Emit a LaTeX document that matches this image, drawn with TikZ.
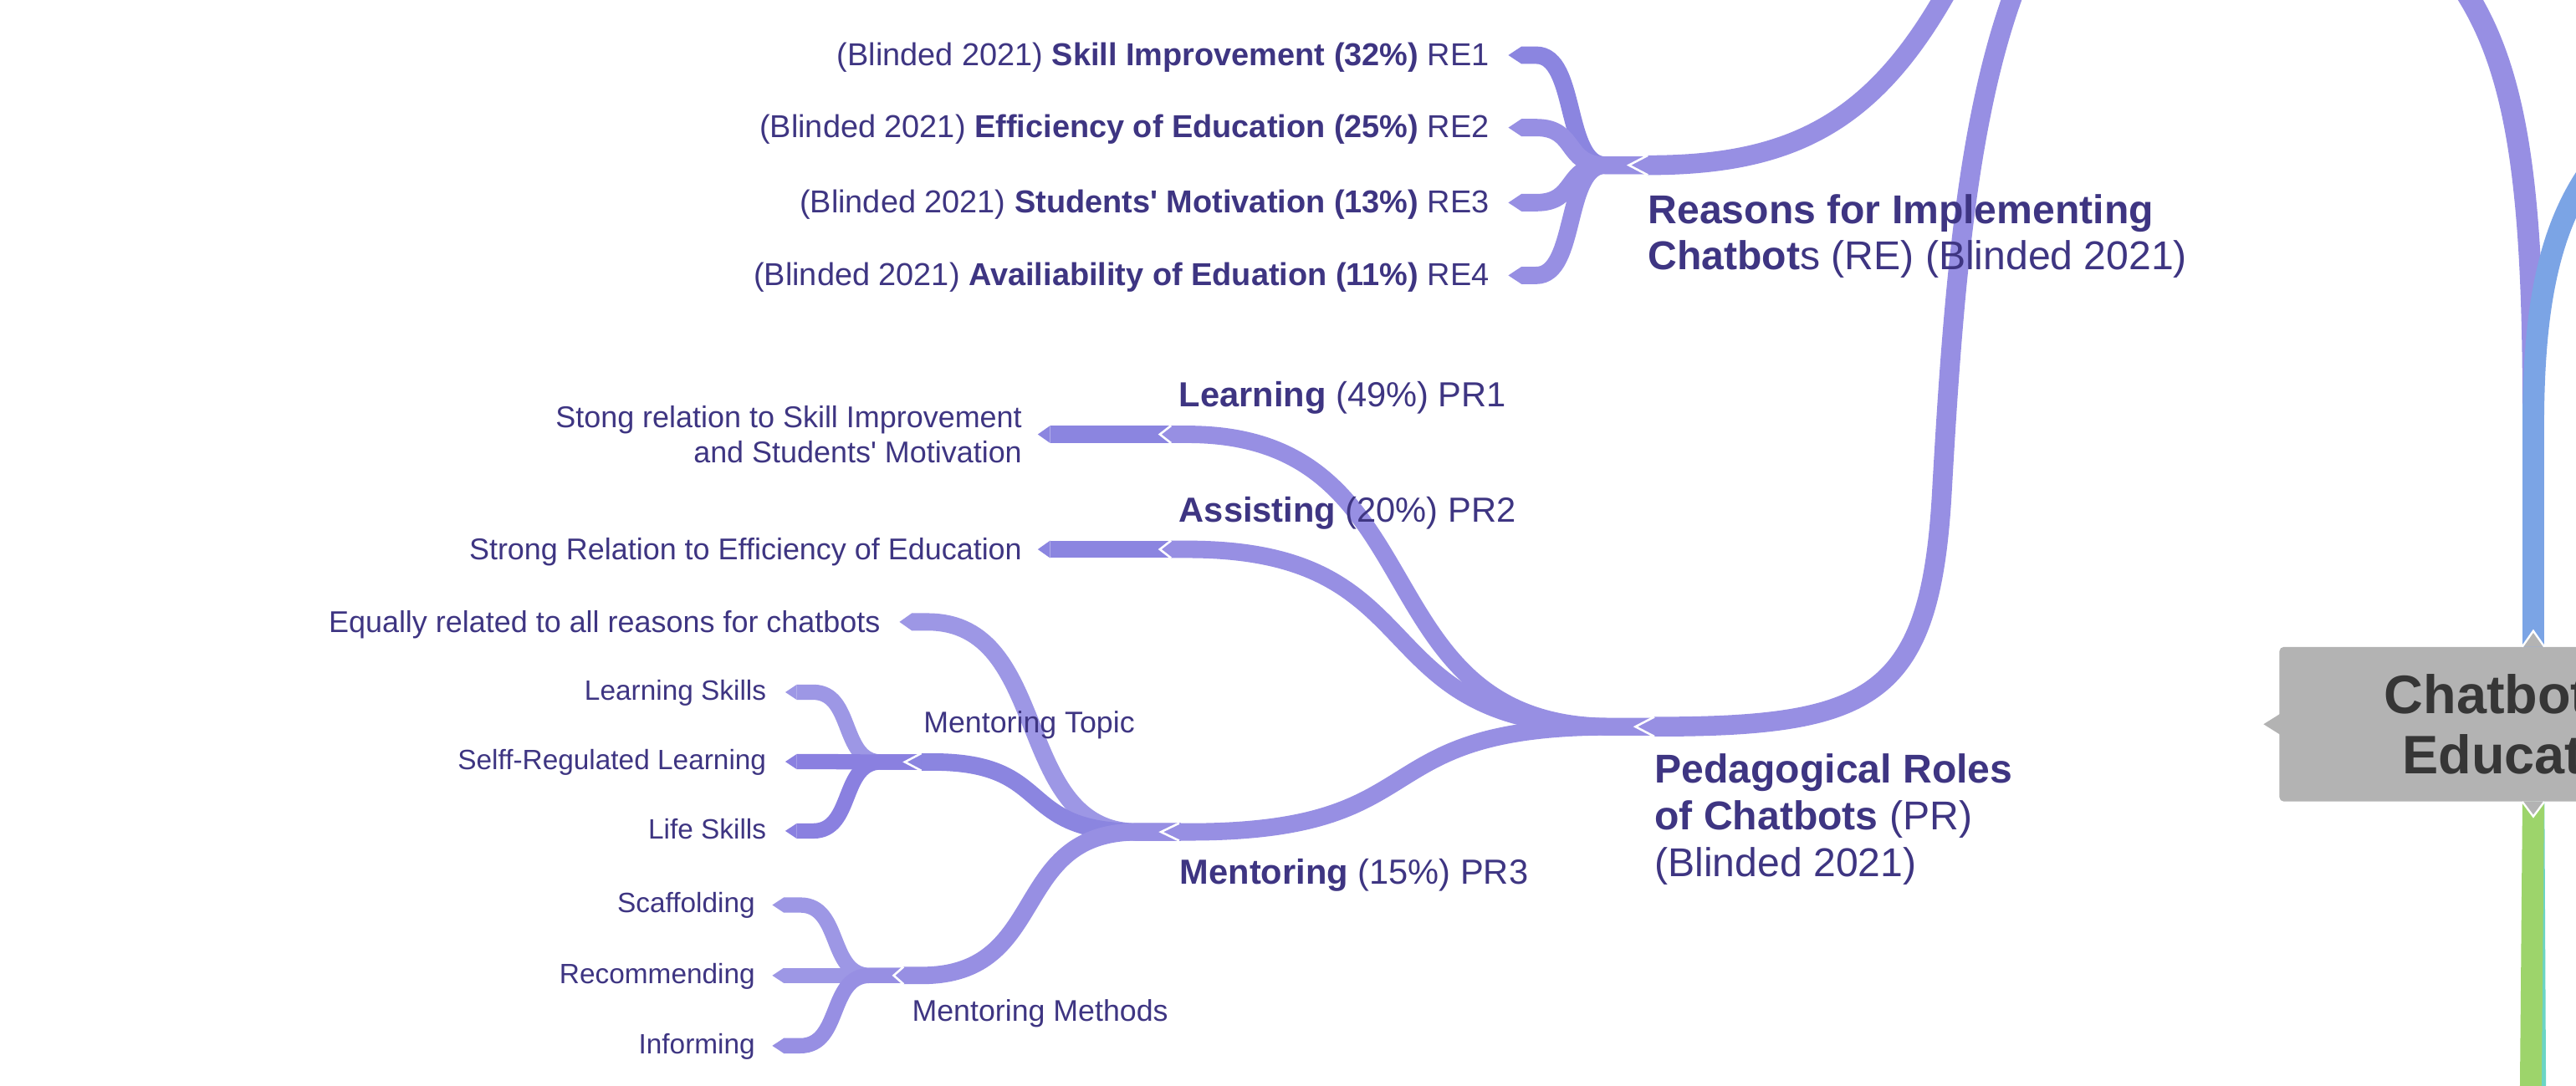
\documentclass[tikz,border=0pt]{standalone}
\usepackage{fontspec}
\setmainfont{Liberation Sans}
\usetikzlibrary{arrows.meta,backgrounds,calc}

\definecolor{ink}{HTML}{3E3582}
\definecolor{pA}{HTML}{978FE3}
\definecolor{pD}{HTML}{8B85E0}
\definecolor{pL}{HTML}{9D97E5}
\definecolor{pS}{HTML}{8A80E0}
\definecolor{rootgray}{HTML}{B3B3B3}
\definecolor{rootink}{HTML}{363636}
\definecolor{bBlue}{HTML}{7BA4E5}
\definecolor{bGreen}{HTML}{9DD46B}
\definecolor{bTeal}{HTML}{6BD5C5}

\tikzset{
  sbend/.style={to path={let \p1=(\tikztostart), \p2=(\tikztotarget),
    \n1={0.6*(\x2-\x1-31.5pt)} in -- ++(17,0)
    .. controls +(\n1,0) and +(-\n1,0) .. ([xshift=-14.5pt]\tikztotarget)
    -- ([xshift=12pt]\tikztotarget)}},
  band/.style 2 args={line width=#2,{Triangle[length=#1,width=#2,line width=0pt]}-},
  pics/chevron/.style 2 args={code={\draw[white,line width=1.3pt] (#1,-#2) -- (0,0) -- (#1,#2);}}
}

\begin{document}
\begin{tikzpicture}[x=1pt,y=-1pt,
  root/.style={fill=rootgray,rounded corners=2.5pt,minimum width=309pt,minimum height=94pt,
    inner sep=0pt,text=rootink,align=center,font=\bfseries\fontsize{33}{36.7}\selectfont},
  topic/.style={inner sep=0pt,text=ink,anchor=base west,align=left,font=\fontsize{24.5}{28.3}\selectfont},
  sub/.style={inner sep=0pt,text=ink,anchor=base west,font=\fontsize{21.2}{25}\selectfont},
  subsub/.style={inner sep=0pt,text=ink,anchor=base west,font=\fontsize{18.2}{21.2}\selectfont},
  leaf/.style={inner sep=0pt,outer ysep=0pt,outer xsep=11.7pt,text=ink,anchor=east},
  l3/.style={leaf,font=\fontsize{19.3}{23}\selectfont,text height=13.9pt,text depth=1.3pt},
  l4/.style={leaf,font=\fontsize{18.3}{21.2}\selectfont,text height=13.2pt,text depth=0.8pt},
  l5/.style={leaf,font=\fontsize{17}{20}\selectfont,text height=12.2pt,text depth=2.8pt}]
\useasboundingbox (0,0) rectangle (1568,661);

\node[root] (main) at (1542,441) {Chatbots in\\Education};
\fill[rootgray] ([xshift=1pt,yshift=-6.6pt]main.west) -- ([xshift=-9.5pt]main.west)
  -- ([xshift=1pt,yshift=6.6pt]main.west) -- cycle;
\filldraw[fill=rootgray,draw=white,line width=1.2pt] ([xshift=-6.7pt]main.north)
  -- ([yshift=9.6pt]main.north) -- ([xshift=6.7pt]main.north);
\filldraw[fill=rootgray,draw=white,line width=1.2pt] ([xshift=-6.7pt]main.south)
  -- ([yshift=-9pt]main.south) -- ([xshift=6.7pt]main.south);

\coordinate (re-a) at (991.5,100.6);
\coordinate (pr-a) at (995.5,442.5);
\coordinate (lea-a) at (706,264.5);
\coordinate (ass-a) at (706,334.5);
\coordinate (men-a) at (706.7,506.6);
\coordinate (top-a) at (550.8,464);
\coordinate (met-a) at (544,594);

% base = last line
\node[topic] (re) at (1003,164.3) {\textbf{Reasons for Implementing}\\\textbf{Chatbot}s (RE) (Blinded 2021)};
\node[topic] (pr) at (1007,533.6) {\textbf{Pedagogical Roles}\\\textbf{of Chatbots} (PR)\\(Blinded 2021)};

\node[l3] (re1) at (918.1,33.6) {(Blinded 2021) \textbf{Skill Improvement (32\%)} RE1};
\node[l3] (re2) at (918.1,77.7) {(Blinded 2021) \textbf{Efficiency of Education (25\%)} RE2};
\node[l3] (re3) at (918.1,123.4) {(Blinded 2021) \textbf{Students\textquotesingle{} Motivation (13\%)} RE3};
\node[l3] (re4) at (918.1,167.7) {(Blinded 2021) \textbf{Availiability of Eduation (11\%)} RE4};

\node[sub] (lea) at (717.5,247.5) {\textbf{Learning} (49\%) PR1};
\node[sub] (ass) at (717.5,317.7) {\textbf{Assisting} (20\%) PR2};
\node[sub] (men) at (718,538.4) {\textbf{Mentoring} (15\%) PR3};

\node[leaf,outer xsep=9.7pt,align=right,font=\fontsize{18.3}{21.2}\selectfont] (lea-l) at (631.7,264.5)
  {Stong relation to Skill Improvement\\and Students\textquotesingle{} Motivation};
\node[l4,outer xsep=9.7pt] (ass-l) at (631.7,334.5) {Strong Relation to Efficiency of Education};
\node[l4] (equal) at (547.5,378.7) {Equally related to all reasons for chatbots};

\node[subsub] (top) at (562,446) {Mentoring Topic};
\node[subsub] (met) at (555,622) {Mentoring Methods};

\node[l5,outer xsep=11.6pt] (lsk) at (478,421.5) {Learning Skills};
\node[l5,outer xsep=11.6pt] (srl) at (478,463.8) {Selff-Regulated Learning};
\node[l5,outer xsep=11.6pt] (lif) at (478,506) {Life Skills};
\node[l5,outer xsep=10.5pt] (sca) at (470.1,551.1) {Scaffolding};
\node[l5,outer xsep=10.5pt] (rec) at (470.1,594) {Recommending};
\node[l5,outer xsep=10.5pt] (inf) at (470.1,636.8) {Informing};

\begin{scope}[on background layer]
\fill[white] (0,0) rectangle (1568,661);
\coordinate (upL) at (1490,-20);
\coordinate (upR) at (1610,70);
\coordinate (dnT) at (1543.5,680);
\coordinate (dnG) at (1540.3,680);
\coordinate (reUp) at (1185,-5);
\coordinate (prUp) at (1232,-20);

\draw[pA,line width=13.2pt] (main.north) -- (1542,250) .. controls (1542,100) and (1530,30) .. (upL);
\draw[bBlue,line width=13.2pt] (main.north) -- (1542,260) .. controls (1542,170) and (1556,110) .. (upR);
\draw[bTeal,line width=12.6pt] ([xshift=0.5pt]main.south) -- (dnT);
\draw[bGreen,line width=13.2pt] (main.south) -- (dnG);

\draw[pL,band={7pt}{9.3pt}] (lsk.east) to[sbend] (top-a);
\draw[pS,band={7pt}{9.3pt}] (srl.east) to[sbend] (top-a);
\draw[pS,band={7pt}{9.3pt}] (lif.east) to[sbend] (top-a);
\draw[pL,band={7pt}{9.3pt}] (sca.east) to[sbend] (met-a);
\draw[pL,band={7pt}{9.3pt}] (rec.east) to[sbend] (met-a);
\draw[pA,band={7pt}{9.3pt}] (inf.east) to[sbend] (met-a);

\draw[pL,band={7.5pt}{10.6pt}] (equal.east) to[sbend] (men-a);
\draw[pD,band={10pt}{10.6pt}] (top-a) to[sbend] (men-a);
\draw[pA,band={6pt}{10.6pt}] (met-a) to[sbend] (men-a);
\draw[pD,band={7.5pt}{10.6pt}] (lea-l.east) to[sbend] (lea-a);
\draw[pD,band={7.5pt}{10.6pt}] (ass-l.east) to[sbend] (ass-a);

\draw[pA,band={6.8pt}{10.6pt}] (lea-a) to[sbend] (pr-a);
\draw[pA,band={6.8pt}{10.6pt}] (ass-a) to[sbend] (pr-a);
\draw[pA,band={11pt}{10.6pt}] (men-a) to[sbend] (pr-a);
\foreach \n/\c in {re1/pD,re2/pA,re3/pA,re4/pA}
  \draw[\c,band={8pt}{10.6pt}] (\n.east) to[sbend] (re-a);

\draw[pA,band={11.5pt}{12pt}] (re-a) .. controls (1090,100.6) and (1140,75) .. (reUp);
\draw[pA,band={11.5pt}{12pt}] (pr-a) .. controls (1140,442.5) and (1175,425) .. (1182,300)
  .. controls (1189,175) and (1198,60) .. (prUp);

\foreach \a/\len/\hh in {re-a/11.5/6,pr-a/11.5/6,lea-a/6.8/5.3,ass-a/6.8/5.3,
    men-a/11/5.3,top-a/10/5.3,met-a/6/5.3}
  \pic at (\a) {chevron={\len}{\hh}};
\end{scope}
\end{tikzpicture}
\end{document}
